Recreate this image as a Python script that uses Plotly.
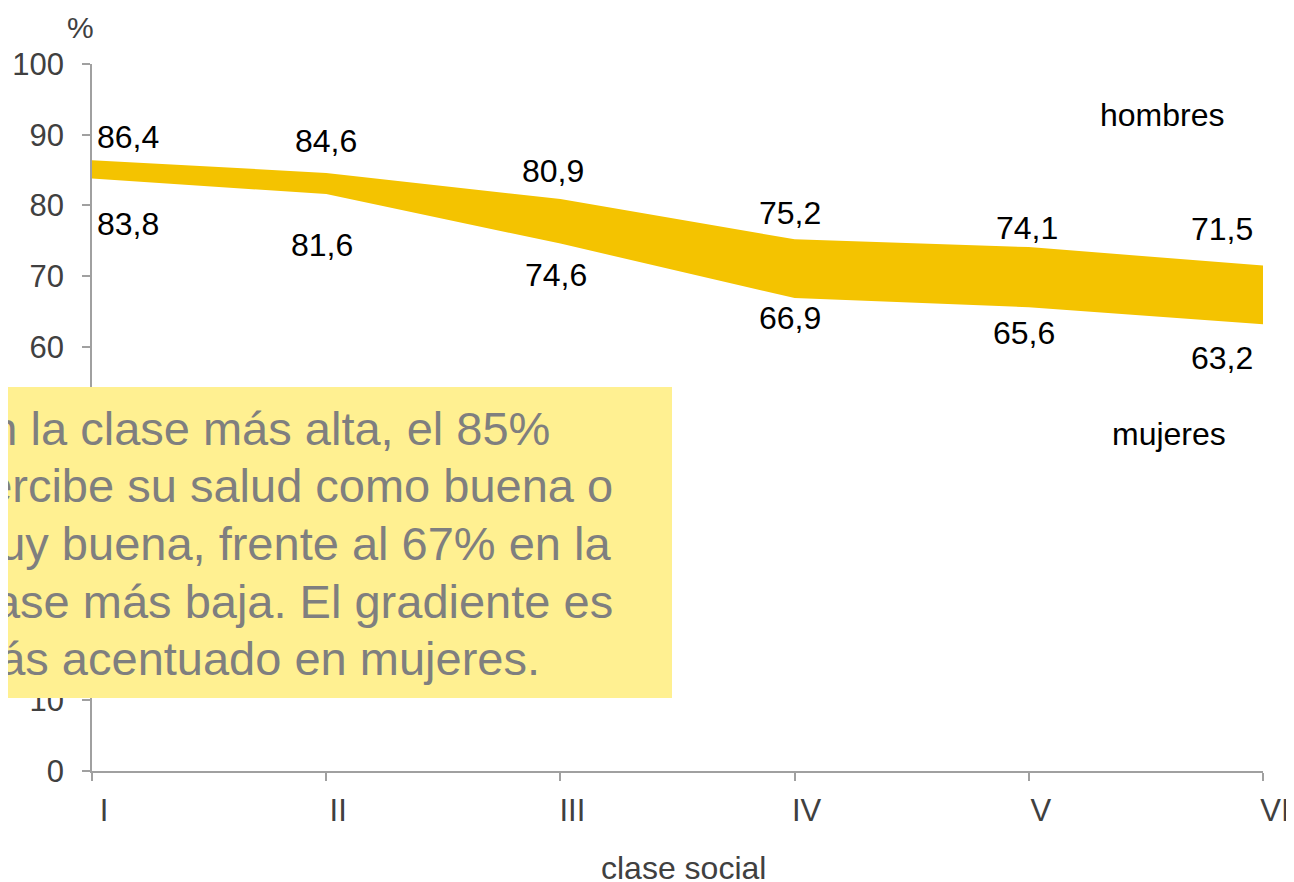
import plotly.graph_objects as go

# Datos: percepción de buena o muy buena salud (%) por clase social
clases = ['I', 'II', 'III', 'IV', 'V', 'VI']
hombres = [86.4, 84.6, 80.9, 75.2, 74.1, 71.5]
mujeres = [83.8, 81.6, 74.6, 66.9, 65.6, 63.2]
y_ticks = [0, 10, 20, 30, 40, 50, 60, 70, 80, 90, 100]

nota = ['En la clase más alta, el 85%',
        'percibe su salud como buena o',
        'muy buena, frente al 67% en la',
        'clase más baja. El gradiente es',
        'más acentuado en mujeres.']

FONT = 'Arial, Liberation Sans, sans-serif'
BAND = '#F4C300'
GRIS = '#404040'
EJE = '#A0A0A0'

# la página deja 8 px de margen, así que el área de dibujo va de x=92..1263, y=64..771
def px(x):
    return (x - 92) / 1171

def py(y):
    return (771 - y) / 707

fig = go.Figure()

# banda entre mujeres (abajo) y hombres (arriba)
fig.add_trace(go.Scatter(x=clases, y=mujeres, mode='lines',
                         line=dict(width=0, color=BAND), showlegend=False))
fig.add_trace(go.Scatter(x=clases, y=hombres, mode='lines', fill='tonexty',
                         fillcolor=BAND, line=dict(width=0, color=BAND),
                         showlegend=False))

# etiquetas de datos (desplazamientos a mano, como en el original)
dx_h = [36, 0, -7, -5, -2, -41]
dy_h = [23, 32, 28, 26, 19, 37]
dx_m = [36, -4, -4, -5, -5, -41]
dy_m = [-45, -51, -31, -20, -26, -34]
for i, c in enumerate(clases):
    fig.add_annotation(x=c, y=hombres[i], text=f'{hombres[i]:.1f}'.replace('.', ','),
                       showarrow=False, xshift=dx_h[i], yshift=dy_h[i],
                       xanchor='center', yanchor='middle',
                       font=dict(size=32, color='black', family=FONT))
    fig.add_annotation(x=c, y=mujeres[i], text=f'{mujeres[i]:.1f}'.replace('.', ','),
                       showarrow=False, xshift=dx_m[i], yshift=dy_m[i],
                       xanchor='center', yanchor='middle',
                       font=dict(size=32, color='black', family=FONT))

# rótulos de serie
fig.add_annotation(x=px(1162), xref='paper', y=py(115), yref='paper',
                   text='hombres', showarrow=False, xanchor='center', yanchor='middle',
                   font=dict(size=32, color='black', family=FONT))
fig.add_annotation(x=px(1169), xref='paper', y=py(434), yref='paper',
                   text='mujeres', showarrow=False, xanchor='center', yanchor='middle',
                   font=dict(size=32, color='black', family=FONT))

# unidad y título del eje x
fig.add_annotation(x=px(80), xref='paper', y=py(27), yref='paper', text='%',
                   showarrow=False, xanchor='center', yanchor='middle',
                   font=dict(size=30, color=GRIS, family=FONT))
fig.add_annotation(x=px(683), xref='paper', y=py(868), yref='paper', text='clase social',
                   showarrow=False, xanchor='center', yanchor='middle',
                   font=dict(size=32, color=GRIS, family=FONT))

# recuadro amarillo con el comentario
fig.add_shape(type='rect', xref='paper', yref='paper',
              x0=px(-30), x1=px(672), y0=py(698), y1=py(387),
              fillcolor='#FFF091', line=dict(width=0), layer='above')
centros = [428, 486, 543, 601, 658]
for linea, yc in zip(nota, centros):
    fig.add_annotation(x=px(-42), xref='paper', y=py(yc), yref='paper',
                       text=linea, showarrow=False, xanchor='left', yanchor='middle',
                       align='left', font=dict(size=47, color='#7F7F7F', family=FONT))

fig.update_layout(
    width=1286, height=874,
    margin=dict(l=84, r=31, t=56, b=111),
    paper_bgcolor='white', plot_bgcolor='white',
    font=dict(family=FONT, color=GRIS),
    xaxis=dict(range=[0, 5], showgrid=False, zeroline=False, automargin=False,
               showline=True, linecolor=EJE, linewidth=1.5,
               ticks='outside', ticklen=8, tickcolor=EJE, tickwidth=1.5,
               tickfont=dict(size=31, color=GRIS), ticklabelshift=12,
               ticklabelstandoff=3, ticklabeloverflow='allow'),
    yaxis=dict(range=[0, 100], tickvals=y_ticks, showgrid=False, zeroline=False,
               automargin=False,
               showline=True, linecolor=EJE, linewidth=1.5,
               ticks='outside', ticklen=8, tickcolor=EJE, tickwidth=1.5,
               tickfont=dict(size=31, color=GRIS), ticklabelstandoff=12),
)

fig.write_html('out.html')
